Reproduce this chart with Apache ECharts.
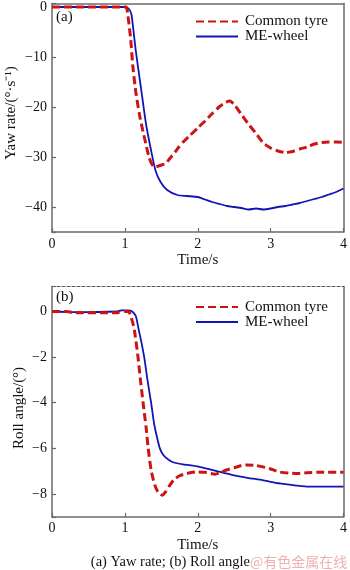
<!DOCTYPE html>
<html>
<head>
<meta charset="utf-8">
<script src="https://cdn.jsdelivr.net/npm/echarts@6/dist/echarts.min.js"></script>
<style>
  html, body { margin: 0; padding: 0; background: #fff; }
  #chart { width: 350px; height: 570px; }
</style>
</head>
<body>
<div id="chart"></div>
<script>
// (a) yaw rate, °/s
const yawTimeCommon = [0, 0.5, 1.0, 1.02, 1.04, 1.08, 1.11, 1.15, 1.2, 1.25, 1.29, 1.33, 1.37, 1.41, 1.5, 1.56, 1.6, 1.7, 1.74, 1.8, 1.9, 2.0, 2.1, 2.2, 2.3, 2.38, 2.44, 2.5, 2.6, 2.7, 2.8, 2.9, 3.0, 3.1, 3.2, 3.3, 3.4, 3.5, 3.6, 3.7, 3.8, 3.9, 4.0];
const yawCommon = [0, 0, 0, 0, -1.5, -6.5, -12, -17, -21.5, -25, -27.5, -30, -31.4, -32, -31.6, -31.3, -30.6, -28.8, -28, -27, -25.6, -24.2, -22.8, -21.3, -19.9, -19.1, -18.8, -19.5, -21.5, -23.5, -25.3, -27.2, -28.2, -28.8, -29.1, -28.9, -28.4, -28, -27.4, -27.1, -27, -27, -27.1];
const yawTimeME = [0, 0.5, 1.0, 1.05, 1.09, 1.12, 1.15, 1.22, 1.29, 1.36, 1.42, 1.49, 1.58, 1.72, 1.85, 2.0, 2.1, 2.2, 2.3, 2.4, 2.5, 2.6, 2.7, 2.8, 2.9, 3.0, 3.1, 3.2, 3.3, 3.4, 3.5, 3.6, 3.7, 3.8, 3.9, 4.0];
const yawME = [0, 0, 0, -0.3, -1.5, -5, -8.8, -16.1, -23.4, -28.7, -32.7, -35, -36.6, -37.6, -37.8, -38, -38.5, -39, -39.4, -39.8, -40, -40.2, -40.5, -40.3, -40.5, -40.3, -40, -39.8, -39.5, -39.2, -38.8, -38.4, -38, -37.5, -37, -36.3];

// (b) roll angle, °
const rollTimeCommon = [0, 0.2, 0.3, 0.9, 1.0, 1.05, 1.1, 1.13, 1.18, 1.21, 1.25, 1.29, 1.32, 1.36, 1.41, 1.46, 1.51, 1.56, 1.62, 1.67, 1.75, 1.85, 2.0, 2.1, 2.24, 2.32, 2.39, 2.5, 2.6, 2.66, 2.8, 2.98, 3.11, 3.25, 3.38, 3.5, 3.65, 4.0];
const rollCommon = [0, 0, -0.05, -0.05, 0, 0, -0.4, -0.8, -2, -2.9, -4, -5.05, -6, -6.95, -7.6, -7.95, -8.05, -7.9, -7.6, -7.39, -7.2, -7.1, -7.03, -7.05, -7.13, -7.05, -6.95, -6.85, -6.75, -6.73, -6.75, -6.88, -7.03, -7.08, -7.1, -7.07, -7.05, -7.05];
const rollTimeME = [0, 0.3, 0.9, 0.95, 1.05, 1.1, 1.15, 1.19, 1.23, 1.27, 1.31, 1.36, 1.4, 1.44, 1.48, 1.53, 1.6, 1.67, 1.8, 2.01, 2.21, 2.48, 2.7, 2.89, 3.05, 3.2, 3.35, 3.52, 4.0];
const rollME = [0, -0.03, 0, 0.05, 0.05, 0, -0.2, -0.8, -1.4, -2.1, -3, -4, -4.9, -5.5, -6, -6.3, -6.5, -6.62, -6.7, -6.8, -6.95, -7.17, -7.3, -7.39, -7.5, -7.57, -7.63, -7.68, -7.68];

const seriesNames = ["Common tyre", "ME-wheel"];
const timeTicks = [0, 1, 2, 3, 4];

const zip = (xs, ys) => xs.map((x, i) => [x, ys[i]]);

const chart = echarts.init(document.getElementById("chart"), null, { renderer: "canvas" });

const FONT = "Liberation Serif";
const AXIS_COLOR = "#6a6a6a";
const RED = "#cc1414";
const BLUE = "#1414b4";

const mainX = (gridIndex) => ({
  type: "value",
  gridIndex,
  min: timeTicks[0],
  max: timeTicks[timeTicks.length - 1],
  interval: 1,
  name: "Time/s",
  nameLocation: "middle",
  nameGap: 21,
  nameTextStyle: { fontFamily: FONT, fontSize: 15, color: "#111" },
  axisLine: { onZero: false, lineStyle: { color: AXIS_COLOR, width: 1.5 } },
  axisTick: { inside: true, length: 4, lineStyle: { color: AXIS_COLOR, width: 1.2 } },
  axisLabel: { fontFamily: FONT, fontSize: 14, color: "#111", margin: 5 },
  splitLine: { show: false },
});

// top edge of each plot box (dashed for the second panel)
const borderX = (gridIndex, dashed) => ({
  type: "value",
  gridIndex,
  position: "top",
  min: 0,
  max: 4,
  axisLine: {
    onZero: false,
    lineStyle: { color: dashed ? "#555" : AXIS_COLOR, width: dashed ? 1 : 1.5, type: dashed ? [3, 2] : "solid" },
  },
  axisTick: { show: false },
  axisLabel: { show: false },
  splitLine: { show: false },
});

const mainY = (gridIndex, min, max, step) => ({
  type: "value",
  gridIndex,
  min,
  max,
  splitNumber: 5,
  axisLine: { onZero: false, lineStyle: { color: AXIS_COLOR, width: 1.5 } },
  axisTick: { inside: true, length: 4, lineStyle: { color: AXIS_COLOR, width: 1.2 } },
  axisLabel: {
    fontFamily: FONT,
    fontSize: 14,
    color: "#111",
    margin: 5,
    formatter: (v) => (Math.abs(v % step) < 1e-9 ? String(v).replace("-", "\u2212") : ""),
  },
  splitLine: { show: false },
});

const borderY = (gridIndex, min, max) => ({
  type: "value",
  gridIndex,
  position: "right",
  min,
  max,
  axisLine: { onZero: false, lineStyle: { color: AXIS_COLOR, width: 1.5 } },
  axisTick: { show: false },
  axisLabel: { show: false },
  splitLine: { show: false },
});

const lineSeries = (name, data, xAxisIndex, yAxisIndex) => ({
  name,
  type: "line",
  xAxisIndex,
  yAxisIndex,
  data,
  symbol: "none",
  smooth: 0.2,
  animation: false,
  lineStyle: name === seriesNames[0]
    ? { color: RED, width: 3, type: [8, 4] }
    : { color: BLUE, width: 1.8 },
  itemStyle: { color: name === seriesNames[0] ? RED : BLUE },
  z: name === seriesNames[0] ? 3 : 2,
});

const legendBase = {
  orient: "vertical",
  left: 195,
  padding: 0,
  itemWidth: 42,
  itemHeight: 13,
  itemGap: 0,
  selectedMode: false,
  itemStyle: { opacity: 0 },
  textStyle: { fontFamily: FONT, fontSize: 15, color: "#111", padding: [0, 0, 0, 2] },
  data: seriesNames,
};

const option = {
  backgroundColor: "#ffffff",
  animation: false,
  grid: [
    { left: 52, right: 2.5, top: 2.5, height: 229.5 },
    { left: 52, right: 2.5, top: 286.4, height: 230.4 },
  ],
  legend: [
    Object.assign({}, legendBase, { top: 14 }),
    Object.assign({}, legendBase, { top: 299.5 }),
  ],
  xAxis: [mainX(0), borderX(0, false), mainX(1), borderX(1, true)],
  yAxis: [
    mainY(0, -45, 0.7, 10),
    borderY(0, -45, 0.7),
    mainY(1, -9, 1.1, 2),
    borderY(1, -9, 1.1),
  ],
  graphic: [
    { type: "text", left: 56, top: 10, style: { text: "(a)", font: "15px " + FONT, fill: "#111" } },
    { type: "text", left: 56, top: 290, style: { text: "(b)", font: "15px " + FONT, fill: "#111" } },
    {
      type: "text", x: 11, y: 113, rotation: Math.PI / 2,
      style: { text: "Yaw rate/(°·s\u207B\u00B9)", font: "15px " + FONT, fill: "#111", align: "center", verticalAlign: "middle" },
    },
    {
      type: "text", x: 19, y: 408, rotation: Math.PI / 2,
      style: { text: "Roll angle/(°)", font: "15px " + FONT, fill: "#111", align: "center", verticalAlign: "middle" },
    },
    {
      type: "text", x: 250, y: 562,
      style: { text: "(a) Yaw rate; (b) Roll angle", font: "14.5px " + FONT, fill: "#111", align: "right", verticalAlign: "middle" },
    },
    {
      type: "text", x: 250, y: 562,
      style: { text: "@有色金属在线", font: "14px 'Noto Sans CJK SC'", fill: "rgba(225,110,110,0.55)", align: "left", verticalAlign: "middle" },
    },
  ],
  series: [
    lineSeries(seriesNames[0], zip(yawTimeCommon, yawCommon), 0, 0),
    lineSeries(seriesNames[1], zip(yawTimeME, yawME), 0, 0),
    lineSeries(seriesNames[0], zip(rollTimeCommon, rollCommon), 2, 2),
    lineSeries(seriesNames[1], zip(rollTimeME, rollME), 2, 2),
  ],
};

chart.setOption(option);
</script>
</body>
</html>
